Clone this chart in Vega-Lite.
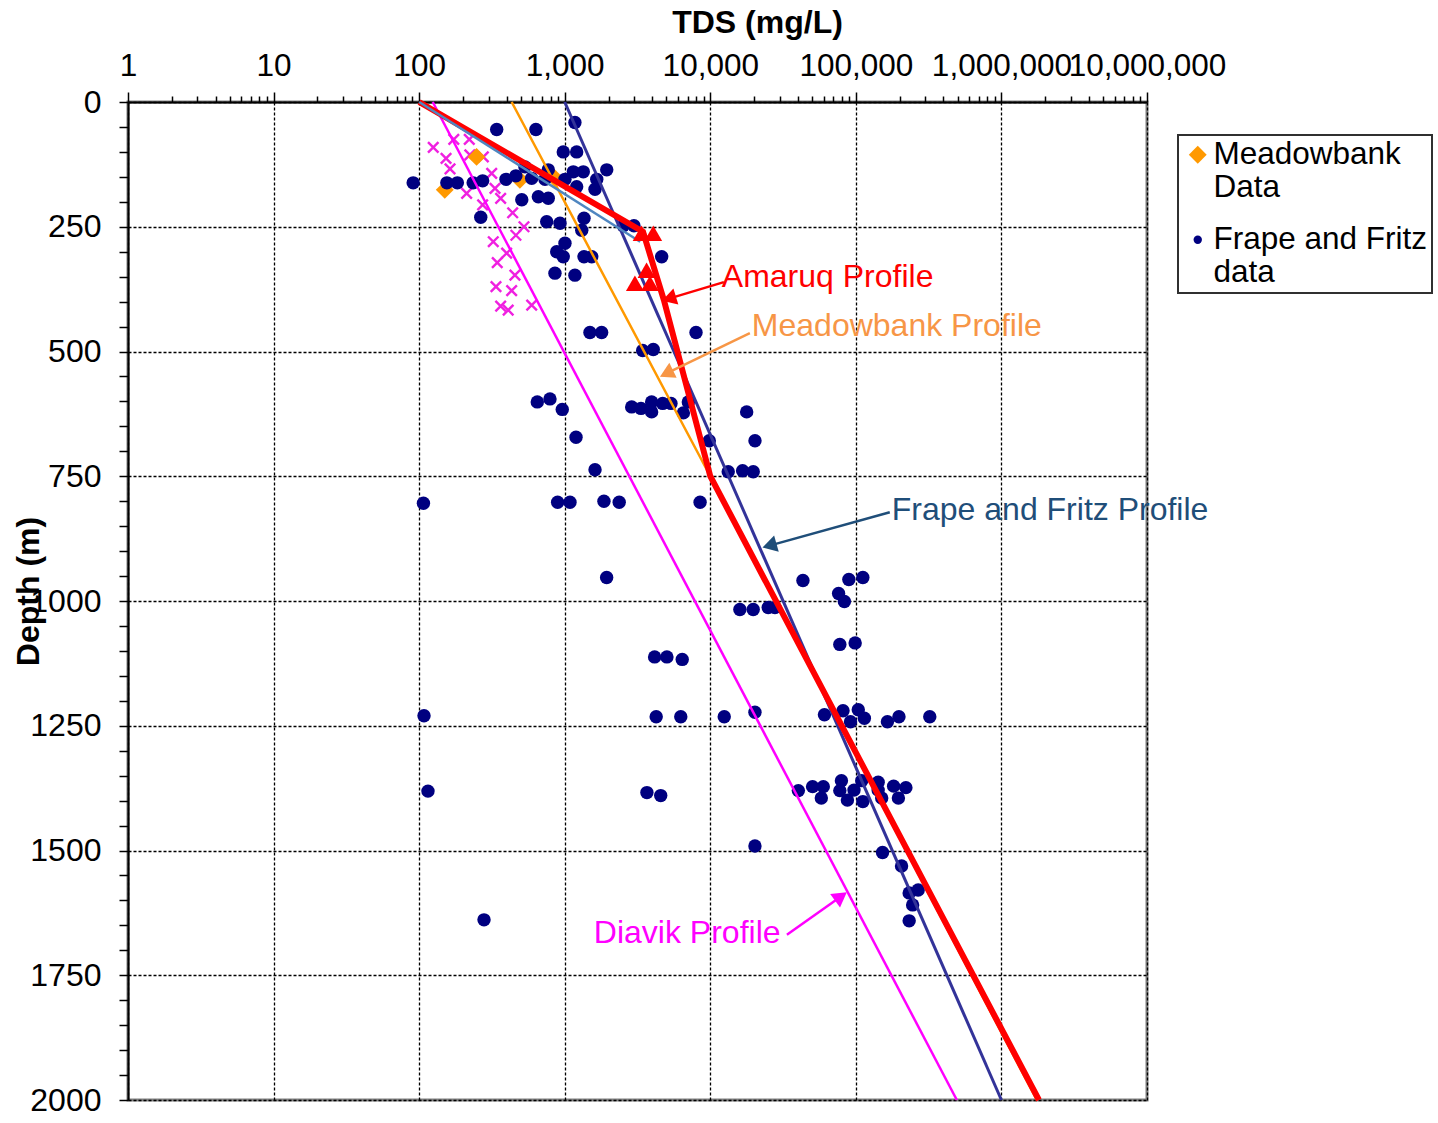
{
  "$schema": "https://vega.github.io/schema/vega-lite/v6.json",
  "width": 1019,
  "height": 998,
  "autosize": {"type": "none"},
  "padding": {"left": 128, "top": 102, "right": 291, "bottom": 23},
  "background": "white",
  "config": {
    "view": {"stroke": "#808080", "strokeWidth": 3},
    "font": "Liberation Sans",
    "text": {"font": "Liberation Sans"},
    "legend": {"strokeWidth": 2}
  },
  "datasets": {
    "scatter": [
      {"source": "Meadowbank Data", "tds": 150, "depth": 176},
      {"source": "Meadowbank Data", "tds": 248, "depth": 110},
      {"source": "Meadowbank Data", "tds": 492, "depth": 156},
      {"source": "Meadowbank Data", "tds": 857, "depth": 153},
      {"source": "Frape and Fritz data", "tds": 1175, "depth": 41},
      {"source": "Frape and Fritz data", "tds": 341, "depth": 55},
      {"source": "Frape and Fritz data", "tds": 634, "depth": 55},
      {"source": "Frape and Fritz data", "tds": 977, "depth": 100},
      {"source": "Frape and Fritz data", "tds": 1208, "depth": 100},
      {"source": "Frape and Fritz data", "tds": 91, "depth": 162},
      {"source": "Frape and Fritz data", "tds": 155, "depth": 162},
      {"source": "Frape and Fritz data", "tds": 183, "depth": 162},
      {"source": "Frape and Fritz data", "tds": 235, "depth": 162},
      {"source": "Frape and Fritz data", "tds": 273, "depth": 158},
      {"source": "Frape and Fritz data", "tds": 395, "depth": 155},
      {"source": "Frape and Fritz data", "tds": 462, "depth": 148},
      {"source": "Frape and Fritz data", "tds": 533, "depth": 130},
      {"source": "Frape and Fritz data", "tds": 593, "depth": 153},
      {"source": "Frape and Fritz data", "tds": 771, "depth": 136},
      {"source": "Frape and Fritz data", "tds": 732, "depth": 155},
      {"source": "Frape and Fritz data", "tds": 1004, "depth": 155},
      {"source": "Frape and Fritz data", "tds": 1146, "depth": 140},
      {"source": "Frape and Fritz data", "tds": 1342, "depth": 140},
      {"source": "Frape and Fritz data", "tds": 1660, "depth": 155},
      {"source": "Frape and Fritz data", "tds": 1944, "depth": 136},
      {"source": "Frape and Fritz data", "tds": 1208, "depth": 170},
      {"source": "Frape and Fritz data", "tds": 1615, "depth": 175},
      {"source": "Frape and Fritz data", "tds": 507, "depth": 196},
      {"source": "Frape and Fritz data", "tds": 659, "depth": 190},
      {"source": "Frape and Fritz data", "tds": 771, "depth": 193},
      {"source": "Frape and Fritz data", "tds": 265, "depth": 231},
      {"source": "Frape and Fritz data", "tds": 752, "depth": 240},
      {"source": "Frape and Fritz data", "tds": 928, "depth": 243},
      {"source": "Frape and Fritz data", "tds": 1357, "depth": 233},
      {"source": "Frape and Fritz data", "tds": 1309, "depth": 257},
      {"source": "Frape and Fritz data", "tds": 2525, "depth": 248},
      {"source": "Frape and Fritz data", "tds": 2990, "depth": 248},
      {"source": "Frape and Fritz data", "tds": 1004, "depth": 283},
      {"source": "Frape and Fritz data", "tds": 881, "depth": 300},
      {"source": "Frape and Fritz data", "tds": 977, "depth": 310},
      {"source": "Frape and Fritz data", "tds": 1357, "depth": 310},
      {"source": "Frape and Fritz data", "tds": 1533, "depth": 310},
      {"source": "Frape and Fritz data", "tds": 4635, "depth": 310},
      {"source": "Frape and Fritz data", "tds": 857, "depth": 343},
      {"source": "Frape and Fritz data", "tds": 1175, "depth": 347},
      {"source": "Frape and Fritz data", "tds": 1490, "depth": 462},
      {"source": "Frape and Fritz data", "tds": 1793, "depth": 462},
      {"source": "Frape and Fritz data", "tds": 7980, "depth": 462},
      {"source": "Frape and Fritz data", "tds": 3433, "depth": 498},
      {"source": "Frape and Fritz data", "tds": 4059, "depth": 496},
      {"source": "Frape and Fritz data", "tds": 648, "depth": 601},
      {"source": "Frape and Fritz data", "tds": 792, "depth": 595},
      {"source": "Frape and Fritz data", "tds": 962, "depth": 616},
      {"source": "Frape and Fritz data", "tds": 1196, "depth": 672},
      {"source": "Frape and Fritz data", "tds": 2884, "depth": 611},
      {"source": "Frape and Fritz data", "tds": 3342, "depth": 614},
      {"source": "Frape and Fritz data", "tds": 3955, "depth": 601},
      {"source": "Frape and Fritz data", "tds": 3955, "depth": 621},
      {"source": "Frape and Fritz data", "tds": 4710, "depth": 604},
      {"source": "Frape and Fritz data", "tds": 5370, "depth": 604},
      {"source": "Frape and Fritz data", "tds": 6530, "depth": 623},
      {"source": "Frape and Fritz data", "tds": 7065, "depth": 601},
      {"source": "Frape and Fritz data", "tds": 17780, "depth": 621},
      {"source": "Frape and Fritz data", "tds": 9840, "depth": 679},
      {"source": "Frape and Fritz data", "tds": 20280, "depth": 679},
      {"source": "Frape and Fritz data", "tds": 13280, "depth": 741},
      {"source": "Frape and Fritz data", "tds": 16670, "depth": 739},
      {"source": "Frape and Fritz data", "tds": 19730, "depth": 741},
      {"source": "Frape and Fritz data", "tds": 1615, "depth": 737},
      {"source": "Frape and Fritz data", "tds": 107, "depth": 804},
      {"source": "Frape and Fritz data", "tds": 894, "depth": 802},
      {"source": "Frape and Fritz data", "tds": 1087, "depth": 802},
      {"source": "Frape and Fritz data", "tds": 1860, "depth": 800},
      {"source": "Frape and Fritz data", "tds": 2368, "depth": 802},
      {"source": "Frape and Fritz data", "tds": 8510, "depth": 802},
      {"source": "Frape and Fritz data", "tds": 1941, "depth": 953},
      {"source": "Frape and Fritz data", "tds": 15970, "depth": 1017},
      {"source": "Frape and Fritz data", "tds": 19720, "depth": 1017},
      {"source": "Frape and Fritz data", "tds": 25000, "depth": 1013},
      {"source": "Frape and Fritz data", "tds": 27800, "depth": 1013},
      {"source": "Frape and Fritz data", "tds": 43300, "depth": 959},
      {"source": "Frape and Fritz data", "tds": 89500, "depth": 957},
      {"source": "Frape and Fritz data", "tds": 111700, "depth": 953},
      {"source": "Frape and Fritz data", "tds": 76100, "depth": 985},
      {"source": "Frape and Fritz data", "tds": 83400, "depth": 1001},
      {"source": "Frape and Fritz data", "tds": 77600, "depth": 1087},
      {"source": "Frape and Fritz data", "tds": 98900, "depth": 1084},
      {"source": "Frape and Fritz data", "tds": 4145, "depth": 1112},
      {"source": "Frape and Fritz data", "tds": 5035, "depth": 1112},
      {"source": "Frape and Fritz data", "tds": 6415, "depth": 1117},
      {"source": "Frape and Fritz data", "tds": 4250, "depth": 1232},
      {"source": "Frape and Fritz data", "tds": 6270, "depth": 1232},
      {"source": "Frape and Fritz data", "tds": 12470, "depth": 1232},
      {"source": "Frape and Fritz data", "tds": 20270, "depth": 1223},
      {"source": "Frape and Fritz data", "tds": 60850, "depth": 1228},
      {"source": "Frape and Fritz data", "tds": 81600, "depth": 1220},
      {"source": "Frape and Fritz data", "tds": 103900, "depth": 1218},
      {"source": "Frape and Fritz data", "tds": 114400, "depth": 1235},
      {"source": "Frape and Fritz data", "tds": 91900, "depth": 1242},
      {"source": "Frape and Fritz data", "tds": 164800, "depth": 1242},
      {"source": "Frape and Fritz data", "tds": 197700, "depth": 1232},
      {"source": "Frape and Fritz data", "tds": 321900, "depth": 1232},
      {"source": "Frape and Fritz data", "tds": 108, "depth": 1230},
      {"source": "Frape and Fritz data", "tds": 115, "depth": 1381},
      {"source": "Frape and Fritz data", "tds": 3670, "depth": 1384},
      {"source": "Frape and Fritz data", "tds": 4565, "depth": 1390},
      {"source": "Frape and Fritz data", "tds": 40270, "depth": 1380},
      {"source": "Frape and Fritz data", "tds": 50430, "depth": 1372},
      {"source": "Frape and Fritz data", "tds": 59750, "depth": 1372},
      {"source": "Frape and Fritz data", "tds": 57900, "depth": 1395},
      {"source": "Frape and Fritz data", "tds": 79600, "depth": 1360},
      {"source": "Frape and Fritz data", "tds": 77600, "depth": 1380},
      {"source": "Frape and Fritz data", "tds": 97100, "depth": 1379},
      {"source": "Frape and Fritz data", "tds": 87500, "depth": 1399},
      {"source": "Frape and Fritz data", "tds": 109700, "depth": 1360},
      {"source": "Frape and Fritz data", "tds": 111700, "depth": 1402},
      {"source": "Frape and Fritz data", "tds": 142300, "depth": 1363},
      {"source": "Frape and Fritz data", "tds": 142300, "depth": 1379},
      {"source": "Frape and Fritz data", "tds": 150500, "depth": 1395},
      {"source": "Frape and Fritz data", "tds": 181700, "depth": 1371},
      {"source": "Frape and Fritz data", "tds": 220600, "depth": 1374},
      {"source": "Frape and Fritz data", "tds": 196000, "depth": 1395},
      {"source": "Frape and Fritz data", "tds": 20270, "depth": 1491},
      {"source": "Frape and Fritz data", "tds": 152500, "depth": 1504},
      {"source": "Frape and Fritz data", "tds": 206000, "depth": 1531},
      {"source": "Frape and Fritz data", "tds": 232400, "depth": 1585},
      {"source": "Frape and Fritz data", "tds": 267900, "depth": 1579},
      {"source": "Frape and Fritz data", "tds": 245500, "depth": 1609},
      {"source": "Frape and Fritz data", "tds": 232400, "depth": 1641},
      {"source": "Frape and Fritz data", "tds": 279, "depth": 1639}
    ],
    "diavik_x": [
      {"tds": 125, "depth": 91}, {"tds": 173, "depth": 75}, {"tds": 221, "depth": 75},
      {"tds": 153, "depth": 113}, {"tds": 163, "depth": 134}, {"tds": 223, "depth": 106},
      {"tds": 276, "depth": 110}, {"tds": 315, "depth": 143}, {"tds": 332, "depth": 173},
      {"tds": 212, "depth": 183}, {"tds": 363, "depth": 193}, {"tds": 273, "depth": 206},
      {"tds": 439, "depth": 222}, {"tds": 525, "depth": 250}, {"tds": 462, "depth": 267},
      {"tds": 323, "depth": 280}, {"tds": 399, "depth": 303}, {"tds": 344, "depth": 322},
      {"tds": 455, "depth": 347}, {"tds": 337, "depth": 370}, {"tds": 432, "depth": 378},
      {"tds": 363, "depth": 409}, {"tds": 409, "depth": 417}, {"tds": 593, "depth": 407}
    ],
    "amaruq_tri": [
      {"tds": 3375, "depth": 263}, {"tds": 4055, "depth": 263}, {"tds": 3650, "depth": 337},
      {"tds": 3035, "depth": 363}, {"tds": 3850, "depth": 363}
    ],
    "profiles": [
      {"series": "Diavik", "ord": 1, "tds": 124, "depth": 0},
      {"series": "Diavik", "ord": 2, "tds": 494000, "depth": 2000},
      {"series": "Frape", "ord": 1, "tds": 1000, "depth": 0},
      {"series": "Frape", "ord": 2, "tds": 1000000, "depth": 2000},
      {"series": "Meadowbank", "ord": 1, "tds": 432, "depth": 0},
      {"series": "Meadowbank", "ord": 2, "tds": 10000, "depth": 750},
      {"series": "Meadowbank", "ord": 3, "tds": 1750000, "depth": 2000},
      {"series": "Blue", "ord": 1, "tds": 100, "depth": 0},
      {"series": "Blue", "ord": 2, "tds": 3300, "depth": 280},
      {"series": "Amaruq", "ord": 1, "tds": 100, "depth": 0},
      {"series": "Amaruq", "ord": 2, "tds": 3450, "depth": 260},
      {"series": "Amaruq", "ord": 3, "tds": 4800, "depth": 397},
      {"series": "Amaruq", "ord": 4, "tds": 10000, "depth": 750},
      {"series": "Amaruq", "ord": 5, "tds": 1810000, "depth": 2000}
    ],
    "arrows": [
      {"arrow": "Amaruq", "ord": 1, "tds": 12400, "depth": 361},
      {"arrow": "Amaruq", "ord": 2, "tds": 5200, "depth": 394},
      {"arrow": "Meadowbank", "ord": 1, "tds": 18700, "depth": 463},
      {"arrow": "Meadowbank", "ord": 2, "tds": 5000, "depth": 544},
      {"arrow": "Frape", "ord": 1, "tds": 171000, "depth": 822},
      {"arrow": "Frape", "ord": 2, "tds": 25500, "depth": 889},
      {"arrow": "Diavik", "ord": 1, "tds": 33600, "depth": 1669},
      {"arrow": "Diavik", "ord": 2, "tds": 79000, "depth": 1592}
    ],
    "labels": [
      {"arrow": "Amaruq", "text": "Amaruq Profile", "tds": 12000, "depth": 351},
      {"arrow": "Meadowbank", "text": "Meadowbank Profile", "tds": 19300, "depth": 449},
      {"arrow": "Frape", "text": "Frape and Fritz Profile", "tds": 176600, "depth": 818},
      {"arrow": "Diavik", "text": "Diavik Profile", "tds": 1585, "depth": 1665}
    ]
  },
  "encoding": {
    "x": {
      "field": "tds", "type": "quantitative",
      "scale": {"type": "log", "domain": [1, 10000000], "nice": false},
      "axis": {
        "orient": "top",
        "title": "TDS (mg/L)",
        "titleFont": "Liberation Sans", "titleFontSize": 32, "titleFontWeight": "bold", "titleColor": "black",
        "titleX": 629, "titleY": -80, "titleBaseline": "middle", "titleAlign": "center",
        "values": [1,2,3,4,5,6,7,8,9,10,20,30,40,50,60,70,80,90,100,200,300,400,500,600,700,800,900,1000,2000,3000,4000,5000,6000,7000,8000,9000,10000,20000,30000,40000,50000,60000,70000,80000,90000,100000,200000,300000,400000,500000,600000,700000,800000,900000,1000000,2000000,3000000,4000000,5000000,6000000,7000000,8000000,9000000,10000000],
        "labelExpr": "abs(log(datum.value)/LN10 - round(log(datum.value)/LN10)) < 0.001 ? format(datum.value, ',') : ''",
        "labelOverlap": false, "labelFlush": false, "labelBound": false,
        "labelFont": "Liberation Sans", "labelFontSize": 31.5, "labelColor": "black", "labelPadding": 10,
        "tickSize": {"condition": {"test": "abs(log(datum.value)/LN10 - round(log(datum.value)/LN10)) < 0.001", "value": 10}, "value": 6},
        "tickColor": "black", "tickWidth": 1.5,
        "grid": true, "gridColor": "black", "gridDash": [3, 2], "gridWidth": 1.3,
        "gridOpacity": {"condition": {"test": "abs(log(datum.value)/LN10 - round(log(datum.value)/LN10)) < 0.001", "value": 1}, "value": 0},
        "domainColor": "black", "domainWidth": 2
      }
    },
    "y": {
      "field": "depth", "type": "quantitative",
      "scale": {"domain": [0, 2000], "reverse": true, "nice": false},
      "axis": {
        "title": "Depth (m)",
        "titleFont": "Liberation Sans", "titleFontSize": 32, "titleFontWeight": "bold", "titleColor": "black",
        "titleX": -100, "titleY": 489, "titleAngle": 270, "titleBaseline": "middle", "titleAlign": "center",
        "values": [0,50,100,150,200,250,300,350,400,450,500,550,600,650,700,750,800,850,900,950,1000,1050,1100,1150,1200,1250,1300,1350,1400,1450,1500,1550,1600,1650,1700,1750,1800,1850,1900,1950,2000],
        "labelExpr": "datum.value % 250 == 0 ? format(datum.value, 'd') : ''",
        "labelOverlap": false, "labelFlush": false, "labelBound": false,
        "labelFont": "Liberation Sans", "labelFontSize": 32, "labelColor": "black", "labelPadding": 18,
        "tickSize": 9, "tickColor": "black", "tickWidth": 1.5,
        "grid": true, "gridColor": "black", "gridDash": [3, 2], "gridWidth": 1.3,
        "gridOpacity": {"condition": {"test": "datum.value % 250 == 0", "value": 1}, "value": 0},
        "domainColor": "black", "domainWidth": 2
      }
    }
  },
  "layer": [
    {
      "data": {"name": "diavik_x"},
      "mark": {"type": "point", "shape": "M-1,-1L1,1M-1,1L1,-1", "filled": false, "stroke": "#F020E0", "strokeWidth": 2.4, "size": 110, "opacity": 1}
    },
    {
      "data": {"name": "scatter"},
      "transform": [{"filter": "datum.source == 'Meadowbank Data'"}],
      "mark": {"type": "point", "filled": true, "opacity": 1},
      "encoding": {
        "color": {
          "field": "source", "type": "nominal",
          "scale": {"domain": ["Meadowbank Data", "Frape and Fritz data"], "range": ["#FF9900", "#000080"]},
          "legend": {
            "title": null, "orient": "none", "legendX": 1050, "legendY": 33,
            "padding": 4, "strokeColor": "#303030", "fillColor": "white",
            "labelFont": "Liberation Sans", "labelFontSize": 31.5, "labelColor": "black", "labelLimit": 400,
            "labelOffset": 0, "rowPadding": 19,
            "labelExpr": "datum.value == 'Meadowbank Data' ? ['Meadowbank', 'Data'] : ['Frape and Fritz', 'data']"
          }
        },
        "shape": {
          "field": "source", "type": "nominal",
          "scale": {"domain": ["Meadowbank Data", "Frape and Fritz data"], "range": ["diamond", "circle"]}
        },
        "size": {
          "field": "source", "type": "nominal",
          "scale": {"domain": ["Meadowbank Data", "Frape and Fritz data"], "range": [320, 70]}
        }
      }
    },
    {
      "data": {"name": "scatter"},
      "transform": [{"filter": "datum.source == 'Frape and Fritz data'"}],
      "mark": {"type": "point", "filled": true, "opacity": 1, "size": 180},
      "encoding": {
        "color": {"field": "source", "type": "nominal", "legend": null},
        "shape": {"field": "source", "type": "nominal", "legend": null}
      }
    },
    {
      "data": {"name": "profiles"},
      "transform": [{"filter": "datum.series == 'Meadowbank'"}],
      "mark": {"type": "line", "color": "#FF9900", "strokeWidth": 2.5},
      "encoding": {"order": {"field": "ord", "type": "quantitative"}}
    },
    {
      "data": {"name": "profiles"},
      "transform": [{"filter": "datum.series == 'Diavik'"}],
      "mark": {"type": "line", "color": "#FF00FF", "strokeWidth": 2.5},
      "encoding": {"order": {"field": "ord", "type": "quantitative"}}
    },
    {
      "data": {"name": "profiles"},
      "transform": [{"filter": "datum.series == 'Frape'"}],
      "mark": {"type": "line", "color": "#333399", "strokeWidth": 3},
      "encoding": {"order": {"field": "ord", "type": "quantitative"}}
    },
    {
      "data": {"name": "profiles"},
      "transform": [{"filter": "datum.series == 'Amaruq'"}],
      "mark": {"type": "line", "color": "#FF0000", "strokeWidth": 6},
      "encoding": {"order": {"field": "ord", "type": "quantitative"}}
    },
    {
      "data": {"name": "profiles"},
      "transform": [{"filter": "datum.series == 'Blue'"}],
      "mark": {"type": "line", "color": "#4F86C0", "strokeWidth": 2.5},
      "encoding": {"order": {"field": "ord", "type": "quantitative"}}
    },
    {
      "data": {"name": "amaruq_tri"},
      "mark": {"type": "point", "shape": "triangle-up", "filled": true, "color": "#FF0000", "size": 320, "opacity": 1}
    },
    {
      "data": {"name": "arrows"},
      "transform": [{"filter": "datum.arrow == 'Amaruq'"}],
      "layer": [
        {"mark": {"type": "line", "color": "#FF0000", "strokeWidth": 2.5}, "encoding": {"order": {"field": "ord", "type": "quantitative"}}},
        {"transform": [{"filter": "datum.ord == 2"}], "mark": {"type": "point", "shape": "triangle-up", "filled": true, "color": "#FF0000", "size": 280, "angle": 253, "opacity": 1}}
      ]
    },
    {
      "data": {"name": "arrows"},
      "transform": [{"filter": "datum.arrow == 'Meadowbank'"}],
      "layer": [
        {"mark": {"type": "line", "color": "#F79646", "strokeWidth": 2.5}, "encoding": {"order": {"field": "ord", "type": "quantitative"}}},
        {"transform": [{"filter": "datum.ord == 2"}], "mark": {"type": "point", "shape": "triangle-up", "filled": true, "color": "#F79646", "size": 280, "angle": 244, "opacity": 1}}
      ]
    },
    {
      "data": {"name": "arrows"},
      "transform": [{"filter": "datum.arrow == 'Frape'"}],
      "layer": [
        {"mark": {"type": "line", "color": "#1F4E79", "strokeWidth": 2.5}, "encoding": {"order": {"field": "ord", "type": "quantitative"}}},
        {"transform": [{"filter": "datum.ord == 2"}], "mark": {"type": "point", "shape": "triangle-up", "filled": true, "color": "#1F4E79", "size": 280, "angle": 254, "opacity": 1}}
      ]
    },
    {
      "data": {"name": "arrows"},
      "transform": [{"filter": "datum.arrow == 'Diavik'"}],
      "layer": [
        {"mark": {"type": "line", "color": "#FF00FF", "strokeWidth": 2.5}, "encoding": {"order": {"field": "ord", "type": "quantitative"}}},
        {"transform": [{"filter": "datum.ord == 2"}], "mark": {"type": "point", "shape": "triangle-up", "filled": true, "color": "#FF00FF", "size": 280, "angle": 54, "opacity": 1}}
      ]
    },
    {
      "data": {"name": "labels"},
      "transform": [{"filter": "datum.arrow == 'Amaruq'"}],
      "mark": {"type": "text", "align": "left", "baseline": "middle", "font": "Liberation Sans", "fontSize": 32, "color": "#FF0000"},
      "encoding": {"text": {"field": "text"}}
    },
    {
      "data": {"name": "labels"},
      "transform": [{"filter": "datum.arrow == 'Meadowbank'"}],
      "mark": {"type": "text", "align": "left", "baseline": "middle", "font": "Liberation Sans", "fontSize": 32, "color": "#F79646"},
      "encoding": {"text": {"field": "text"}}
    },
    {
      "data": {"name": "labels"},
      "transform": [{"filter": "datum.arrow == 'Frape'"}],
      "mark": {"type": "text", "align": "left", "baseline": "middle", "font": "Liberation Sans", "fontSize": 32, "color": "#1F4E79"},
      "encoding": {"text": {"field": "text"}}
    },
    {
      "data": {"name": "labels"},
      "transform": [{"filter": "datum.arrow == 'Diavik'"}],
      "mark": {"type": "text", "align": "left", "baseline": "middle", "font": "Liberation Sans", "fontSize": 32, "color": "#FF00FF"},
      "encoding": {"text": {"field": "text"}}
    }
  ]
}
